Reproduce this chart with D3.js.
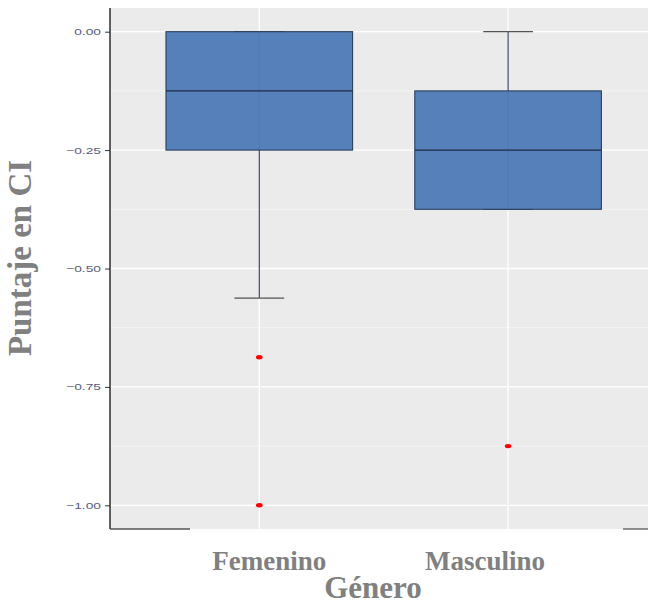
<!DOCTYPE html>
<html>
<head>
<meta charset="utf-8">
<script src="https://cdn.jsdelivr.net/npm/d3@7"></script>
<style>
  html, body { margin: 0; padding: 0; background: #fff; }
  svg { display: block; }
</style>
</head>
<body>
<svg id="chart" width="648" height="604"></svg>
<script>
// Box-plot summaries of CI score by gender
const categories = ["Femenino", "Masculino"];
const q1 = [-0.25, -0.375];
const medians = [-0.125, -0.25];
const q3 = [0, -0.125];
const whiskerLow = [-0.5625, -0.375];
const whiskerHigh = [0, 0];
const outliers = [[-0.6875, -1.0], [-0.875]];
const yTicks = [0, -0.25, -0.5, -0.75, -1.0];
const yMinor = [0.125, -0.125, -0.375, -0.625, -0.875];

const svg = d3.select("#chart");
const pLeft = 110, pTop = 8, pBottom = 529, pRight = 657.4;

// discrete x positions 1..n with 0.6 expansion on each side
const x = d3.scaleLinear().domain([0.4, 2.6]).range([pLeft, pRight]);
const y = d3.scaleLinear().domain([-1.05, 0.05]).range([pBottom, pTop]);

svg.append("rect")
  .attr("x", pLeft).attr("y", pTop)
  .attr("width", pRight - pLeft).attr("height", pBottom - pTop)
  .attr("fill", "#ebebeb");

// grid
svg.append("g").selectAll("line").data(yMinor).join("line")
  .attr("x1", pLeft).attr("x2", pRight)
  .attr("y1", d => y(d)).attr("y2", d => y(d))
  .attr("stroke", "#f5f5f5").attr("stroke-width", 0.8);
svg.append("g").selectAll("line").data(yTicks).join("line")
  .attr("x1", pLeft).attr("x2", pRight)
  .attr("y1", d => y(d)).attr("y2", d => y(d))
  .attr("stroke", "#ffffff").attr("stroke-width", 1.3);
svg.append("g").selectAll("line").data(categories).join("line")
  .attr("x1", (d, i) => x(i + 1)).attr("x2", (d, i) => x(i + 1))
  .attr("y1", pTop).attr("y2", pBottom)
  .attr("stroke", "#ffffff").attr("stroke-width", 1.3);

const boxW = 0.75, capW = 0.2;
const g = svg.append("g");
categories.forEach((c, i) => {
  const cx = x(i + 1);
  // whisker
  g.append("line")
    .attr("x1", cx).attr("x2", cx)
    .attr("y1", y(whiskerHigh[i])).attr("y2", y(whiskerLow[i]))
    .attr("stroke", "#3a4a66").attr("stroke-width", 1.2);
  // caps
  [whiskerHigh[i], whiskerLow[i]].forEach(v => {
    g.append("line")
      .attr("x1", x(i + 1 - capW / 2)).attr("x2", x(i + 1 + capW / 2))
      .attr("y1", y(v)).attr("y2", y(v))
      .attr("stroke", "#555").attr("stroke-width", 1.2);
  });
  // box
  g.append("rect")
    .attr("x", x(i + 1 - boxW / 2)).attr("width", x(i + 1 + boxW / 2) - x(i + 1 - boxW / 2))
    .attr("y", y(q3[i])).attr("height", y(q1[i]) - y(q3[i]))
    .attr("fill", "#4f7bb6").attr("fill-opacity", 0.96)
    .attr("stroke", "#2b3f5e").attr("stroke-width", 1.1);
  // median
  g.append("line")
    .attr("x1", x(i + 1 - boxW / 2)).attr("x2", x(i + 1 + boxW / 2))
    .attr("y1", y(medians[i])).attr("y2", y(medians[i]))
    .attr("stroke", "#1f2d45").attr("stroke-width", 1.4);
  // outliers
  outliers[i].forEach(v => {
    g.append("ellipse")
      .attr("cx", cx).attr("cy", y(v))
      .attr("rx", 3.3).attr("ry", 2.2)
      .attr("fill", "#ff0000");
  });
});

// y axis (labels drawn wide)
const stretch = 1.45;
const yAxis = d3.axisLeft(y).tickValues(yTicks).tickFormat(d3.format(".2f")).tickSize(5).tickPadding(4);
const ya = svg.append("g").attr("transform", `translate(${pLeft},0)`).call(yAxis);
ya.select(".domain").remove();
ya.selectAll(".tick line").attr("stroke", "#333").attr("stroke-width", 1);
ya.selectAll(".tick text")
  .attr("fill", "#5a5a7a").attr("font-family", "Liberation Sans, Arial, sans-serif")
  .attr("font-size", 9.5)
  .attr("x", -9 / stretch)
  .attr("transform", `scale(${stretch},1)`);
svg.append("line")
  .attr("x1", pLeft).attr("x2", pLeft).attr("y1", pTop).attr("y2", pBottom)
  .attr("stroke", "#111").attr("stroke-width", 1.3);

// partial bottom axis line segments
svg.append("line").attr("x1", pLeft).attr("x2", 190).attr("y1", pBottom).attr("y2", pBottom)
  .attr("stroke", "#555").attr("stroke-width", 1.3);
svg.append("line").attr("x1", 623).attr("x2", 648).attr("y1", pBottom).attr("y2", pBottom)
  .attr("stroke", "#555").attr("stroke-width", 1.3);

// category labels
const labelNudge = [10, -23];
svg.append("g").selectAll("text").data(categories).join("text")
  .attr("x", (d, i) => x(i + 1) + labelNudge[i]).attr("y", 570)
  .attr("text-anchor", "middle")
  .attr("font-family", "Liberation Serif, Times New Roman, serif")
  .attr("font-weight", "bold").attr("font-size", 27)
  .attr("fill", "#808080")
  .text(d => d);

// axis titles
svg.append("text")
  .attr("x", 373).attr("y", 598)
  .attr("text-anchor", "middle")
  .attr("font-family", "Liberation Serif, Times New Roman, serif")
  .attr("font-weight", "bold").attr("font-size", 31)
  .attr("fill", "#808080")
  .text("Género");
svg.append("text")
  .attr("transform", `translate(31,258) rotate(-90)`)
  .attr("text-anchor", "middle")
  .attr("font-family", "Liberation Serif, Times New Roman, serif")
  .attr("font-weight", "bold").attr("font-size", 33)
  .attr("fill", "#808080")
  .text("Puntaje en CI");
</script>
</body>
</html>
